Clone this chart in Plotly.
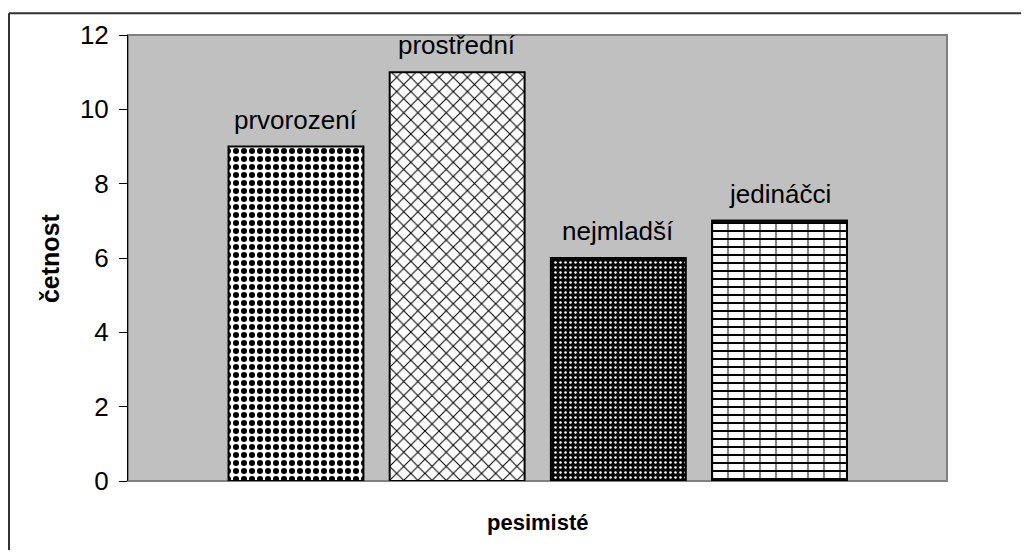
import plotly.graph_objects as go

categories = ["prvorození", "prostřední", "nejmladší", "jedináčci"]
values = [9, 11, 6, 7]
y_ticks = [0, 2, 4, 6, 8, 10, 12]
x_title = "pesimisté"
y_title = "četnost"

pattern_shapes = [".", "x", ".", "-"]
pattern_fg = ["black", "black", "white", "black"]
pattern_bg = ["white", "white", "black", "white"]
pattern_size = [8, 10, 5, 8]
pattern_solidity = [0.45, 0.2, 0.2, 0.25]

FONT = "Arial, Liberation Sans, sans-serif"
xs = list(range(1, len(categories) + 1))

fig = go.Figure()
fig.add_trace(go.Bar(
    x=xs, y=values, width=0.837,
    marker=dict(
        color="white",
        line=dict(color="black", width=2),
        pattern=dict(shape=pattern_shapes, fgcolor=pattern_fg, bgcolor=pattern_bg,
                     size=pattern_size, solidity=pattern_solidity, fillmode="replace"),
    ),
    hoverinfo="skip", showlegend=False,
))
# brick joints for the last bar (vertical strokes overlaid on the horizontal lines)
fig.add_trace(go.Bar(
    x=xs[3:], y=values[3:], width=0.837,
    marker=dict(
        color="rgba(0,0,0,0)",
        line=dict(color="black", width=2),
        pattern=dict(shape="|", fgcolor="black", size=16, solidity=0.12, fillmode="overlay"),
    ),
    hoverinfo="skip", showlegend=False,
))

for x, v, name in zip(xs, values, categories):
    fig.add_annotation(x=x, y=v, text=name, showarrow=False, yanchor="middle",
                       yshift=27, font=dict(family=FONT, size=26, color="black"))

# axis titles
fig.add_annotation(xref="paper", yref="paper", x=0.5, y=-0.094, text="<b>%s</b>" % x_title,
                   showarrow=False, yanchor="middle", xanchor="center",
                   font=dict(family=FONT, size=22, color="black"))
fig.add_annotation(xref="paper", yref="paper", x=-0.0952, y=0.5, text="<b>%s</b>" % y_title,
                   showarrow=False, textangle=-90, yanchor="middle", xanchor="center",
                   font=dict(family=FONT, size=25, color="black"))

# plot-area border
fig.add_shape(type="rect", xref="paper", yref="paper", x0=0, y0=0, x1=1, y1=1,
              line=dict(color="#808080", width=2), layer="below")
# outer chart border: only its left and top edges are inside the picture
fig.add_shape(type="line", xref="paper", yref="paper", x0=-0.1453, y0=-0.3, x1=-0.1453, y1=1.049,
              line=dict(color="#333333", width=2), layer="above")
fig.add_shape(type="line", xref="paper", yref="paper", x0=-0.1453, y0=1.049, x1=1.3, y1=1.049,
              line=dict(color="#333333", width=2), layer="above")

# page body has an 8px margin on all sides; keep the figure inside the window (no scrollbars)
fig.update_layout(
    width=1013, height=542,
    margin=dict(l=120, r=74, t=25, b=69),
    paper_bgcolor="white", plot_bgcolor="#c0c0c0",
    font=dict(family=FONT, color="black"),
    barmode="overlay",
    xaxis=dict(range=[-0.042, 5.039], showticklabels=False, showgrid=False,
               zeroline=False, showline=False, ticks=""),
    yaxis=dict(range=[0, 12], tickvals=y_ticks, showgrid=False, zeroline=False,
               showline=True, linecolor="black", linewidth=1,
               ticks="outside", ticklen=8, tickcolor="black", tickwidth=1,
               ticklabelstandoff=5,
               tickfont=dict(family=FONT, size=26, color="black")),
)

fig.write_html("out.html")
